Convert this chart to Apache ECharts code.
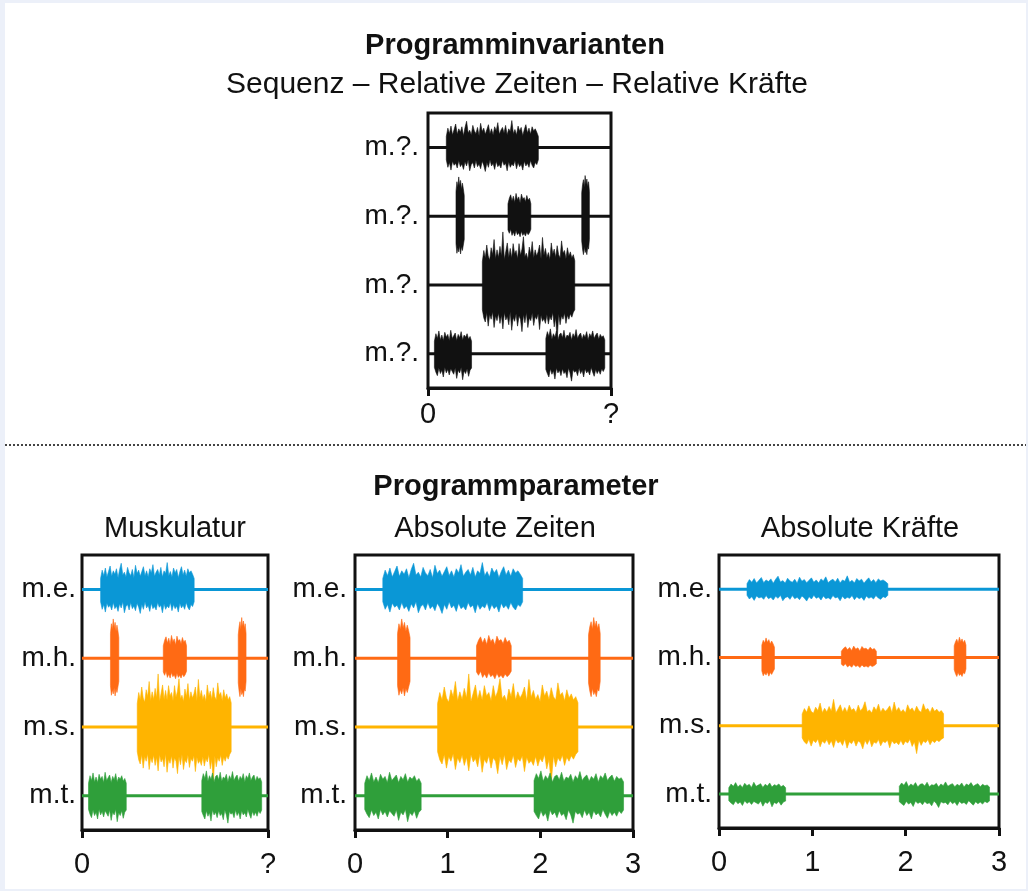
<!DOCTYPE html>
<html><head><meta charset="utf-8">
<script src="https://cdn.jsdelivr.net/npm/echarts@6/dist/echarts.min.js"></script>
<style>html,body{margin:0;padding:0;background:#fff}#c{width:1028px;height:891px}</style>
</head><body><div id="c"></div>
<script>
// ---------------- data ----------------
const rowNamesTop = ['m.?.', 'm.?.', 'm.?.', 'm.?.'];
const rowNames = ['m.e.', 'm.h.', 'm.s.', 'm.t.'];
const rowLevels = [40, 30, 20, 10];
const panelTitles = ['Muskulatur', 'Absolute Zeiten', 'Absolute Kräfte'];
const panelDurations = [2, 2, 3, 3];      // top panel, Muskulatur, Absolute Zeiten, Absolute Kräfte
const panelGains = [1, 1, 1, 0.5];        // amplitude scaling per panel
const panelIntervals = [2, 2, 1, 1];
const muscleColors = ['#0a97d6', '#ff6a14', '#ffb400', '#2f9f3a'];
const topColor = '#111111';

// burst on/off times as fraction of movement duration
const meBursts = [[0.100, 0.603]];
const mhBursts = [[0.153, 0.198], [0.437, 0.562], [0.840, 0.882]];
const msBursts = [[0.297, 0.802]];
const mtBursts = [[0.035, 0.238], [0.644, 0.966]];

// burst envelopes (upper / lower excursion, row spacing = 10)
const meUp = [[1.6,2.8,2.0,3.1,1.8,2.6,3.4,1.9,2.7,2.2,3.0,1.7,2.9,3.8,2.1,2.5,1.8,3.2,2.4,2.0,2.9,1.7,3.5,2.3,2.8,1.9,2.6,3.3,2.0,2.7,1.8,3.0,2.4,3.6,1.9,2.5,2.9,2.1,3.2,1.8,2.7,2.3,3.9,2.0,2.6,1.8,3.1,2.4,2.9,1.7,2.6,3.3,2.1,2.8,1.9,3.0,2.4,2.7,2.2,1.6]];
const meDn = [[1.8,2.9,2.2,3.3,2.0,2.6,2.3,3.0,1.9,2.8,2.4,3.2,2.1,2.7,1.8,3.4,2.5,2.2,3.0,1.9,2.8,2.4,3.1,2.0,2.6,3.5,2.2,2.9,1.8,2.7,2.3,3.2,2.0,2.8,2.5,3.0,1.9,2.6,2.3,3.4,2.1,2.9,2.4,2.7,1.9,3.1,2.2,2.8,2.4,3.3,2.0,2.7,2.3,2.9,1.9,2.6,3.0,2.2,2.5,1.8]];
const mhUp = [
  [3.6,5.0,4.2,5.7,4.4,5.2,3.9,4.8,4.0,3.0],
  [1.8,2.6,3.1,2.2,2.9,2.0,3.3,2.4,2.8,1.9,3.2,2.5,2.7,2.1,3.0,2.3,2.6,1.8],
  [3.4,4.6,5.3,4.2,5.9,4.6,5.4,4.3,5.0,3.6]
];
const mhDn = [
  [4.0,5.4,4.6,5.2,4.3,5.5,4.4,5.0,4.2,3.4],
  [2.0,2.5,1.9,2.8,2.3,2.9,2.1,2.7,2.4,3.0,2.2,2.8,2.5,2.9,2.3,2.7,2.4,1.9],
  [3.6,4.8,5.6,4.4,5.3,4.9,5.6,4.5,4.8,3.4]
];
const msUp = [[3.4,5.0,3.9,5.8,4.2,3.6,5.4,4.4,6.6,3.8,5.1,4.0,5.6,4.2,7.7,3.7,4.9,6.1,4.0,5.3,3.9,6.0,4.5,5.0,3.8,6.0,4.3,5.2,7.0,4.1,4.6,3.7,5.5,4.4,6.3,3.9,5.1,4.2,4.8,5.8,3.8,6.9,4.3,5.3,4.0,4.7,3.7,6.1,4.5,5.2,4.0,5.7,4.4,3.9,6.4,4.6,5.0,3.8,5.4,4.2,4.8,3.9,4.4,3.5]];
const msDn = [[3.6,4.8,5.4,4.0,6.0,4.3,5.0,3.9,6.2,4.5,5.2,4.1,5.6,4.4,6.4,4.0,5.1,4.6,5.8,3.9,6.6,4.7,5.3,4.2,6.0,4.5,5.0,6.8,4.3,5.5,4.0,6.2,4.8,5.2,4.1,5.9,4.6,5.0,4.2,6.5,4.4,5.3,4.9,5.6,4.3,5.7,4.6,5.1,4.0,6.1,4.7,8.2,4.2,5.8,4.5,5.0,4.1,5.6,4.4,5.0,4.2,4.7,4.0,3.6]];
const mtUp = [
  [1.8,2.9,2.2,3.3,2.0,2.7,1.9,3.1,2.4,2.8,1.9,3.4,2.2,2.6,3.0,1.9,2.8,2.3,3.2,2.0,2.7,2.4,2.9,2.1,2.5,1.8],
  [2.2,3.2,2.5,3.6,2.1,2.9,2.4,3.3,2.0,2.8,3.0,2.3,3.4,2.1,2.7,2.5,3.1,2.0,2.9,2.4,3.5,2.2,2.7,3.0,2.1,2.8,2.4,3.2,2.0,2.9,2.5,3.3,2.2,2.7,3.0,2.1,2.8,2.4,2.6,2.0]
];
const mtDn = [
  [2.0,2.7,3.2,2.1,2.9,2.4,3.4,2.0,2.8,2.3,3.1,2.2,2.6,3.0,2.1,3.6,2.4,2.8,2.0,3.8,2.5,2.9,2.2,3.3,2.4,2.1],
  [2.3,2.9,3.4,2.2,3.0,2.5,3.7,2.1,2.8,2.4,3.2,2.2,2.9,2.6,3.5,2.1,2.8,4.0,2.3,2.7,2.5,3.2,2.1,2.9,2.4,3.4,2.2,2.8,2.5,3.1,2.0,2.7,3.3,2.3,2.9,2.4,3.0,2.2,2.6,2.1]
];

const burstSets = [meBursts, mhBursts, msBursts, mtBursts];
const upSets = [meUp, mhUp, msUp, mtUp];
const dnSets = [meDn, mhDn, msDn, mtDn];

// ---------------- layout ----------------
const FONT = '"Liberation Sans", Arial, Helvetica, sans-serif';
const grids = [
  {left: 428, top: 113, width: 183, height: 275},
  {left: 82,  top: 555, width: 186, height: 275},
  {left: 355, top: 555, width: 278, height: 275},
  {left: 719, top: 555, width: 280, height: 273}
];
const labelMargins = [12, 20, 20, 20];
const rowLabelMargins = [9, 6, 8, 7];

function makeRender(ups, dns, gain, color) {
  return function (params, api) {
    const t0 = api.value(0), t1 = api.value(1), lvl = api.value(2), j = api.value(3);
    const u = ups[j], d = dns[j];
    const pts = [];
    for (let k = 0; k < u.length; k++) {
      const t = t0 + (t1 - t0) * k / (u.length - 1);
      pts.push(api.coord([t, lvl + u[k] * gain]));
    }
    for (let k = d.length - 1; k >= 0; k--) {
      const t = t0 + (t1 - t0) * k / (d.length - 1);
      pts.push(api.coord([t, lvl - d[k] * gain]));
    }
    return {type: 'polygon', shape: {points: pts}, style: {fill: color, stroke: color, lineWidth: 0.6}};
  };
}

const series = [];
const xAxes = [];
const yAxes = [];
grids.forEach((g, p) => {
  const dur = panelDurations[p];
  const names = p === 0 ? rowNamesTop : rowNames;
  xAxes.push({
    gridIndex: p, type: 'value', min: 0, max: dur, interval: panelIntervals[p],
    axisLine: {show: true, lineStyle: {color: '#111', width: 3}},
    axisTick: {show: true, length: 8, lineStyle: {color: '#111', width: 3}},
    splitLine: {show: false},
    axisLabel: {
      showMinLabel: true, showMaxLabel: true,
      fontSize: 29, fontFamily: FONT, color: '#111', margin: labelMargins[p],
      formatter: v => (p < 2 && v === dur) ? '?' : String(v)
    }
  });
  yAxes.push({
    gridIndex: p, type: 'value', min: 5, max: 45,
    axisLine: {show: false}, axisTick: {show: false}, splitLine: {show: false},
    axisLabel: {
      customValues: rowLevels.slice(),
      fontSize: 28, fontFamily: FONT, color: '#111', margin: rowLabelMargins[p],
      formatter: v => names[rowLevels.indexOf(v)] || ''
    }
  });
  for (let m = 0; m < 4; m++) {
    const color = p === 0 ? topColor : muscleColors[m];
    const lvl = rowLevels[m];
    series.push({
      type: 'line', xAxisIndex: p, yAxisIndex: p, silent: true, animation: false,
      symbol: 'none', lineStyle: {color: color, width: 3}, z: 2,
      data: [[0, lvl], [dur, lvl]]
    });
    series.push({
      type: 'custom', xAxisIndex: p, yAxisIndex: p, silent: true, animation: false, z: 3,
      renderItem: makeRender(upSets[m], dnSets[m], panelGains[p], color),
      encode: {x: [0, 1], y: 2},
      data: burstSets[m].map((b, j) => [b[0] * dur, b[1] * dur, lvl, j])
    });
  }
});

const graphics = [
  {type: 'rect', z: -10, shape: {x: 5, y: 3, width: 1021, height: 886}, style: {fill: '#ffffff'}},
  {type: 'line', shape: {x1: 5, y1: 445, x2: 1026, y2: 445}, style: {stroke: '#444', lineWidth: 1.8, lineDash: [2, 2]}},
  {type: 'text', x: 515, y: 46, style: {text: 'Programminvarianten', font: 'bold 29px ' + FONT, fill: '#111', textAlign: 'center', textVerticalAlign: 'middle'}},
  {type: 'text', x: 517, y: 85, style: {text: 'Sequenz – Relative Zeiten – Relative Kräfte', font: '30px ' + FONT, fill: '#111', textAlign: 'center', textVerticalAlign: 'middle'}},
  {type: 'text', x: 516, y: 487, style: {text: 'Programmparameter', font: 'bold 29px ' + FONT, fill: '#111', textAlign: 'center', textVerticalAlign: 'middle'}}
];
const subCenters = [175, 495, 860];
panelTitles.forEach((t, i) => {
  graphics.push({type: 'text', x: subCenters[i], y: 529, style: {text: t, font: '29px ' + FONT, fill: '#111', textAlign: 'center', textVerticalAlign: 'middle'}});
});

const chart = echarts.init(document.getElementById('c'), null, {renderer: 'canvas'});
chart.setOption({
  backgroundColor: '#ecf0f9',
  animation: false,
  grid: grids.map(g => Object.assign({show: true, borderColor: '#111', borderWidth: 3, backgroundColor: 'transparent', containLabel: false}, g)),
  xAxis: xAxes,
  yAxis: yAxes,
  graphic: {elements: graphics},
  series: series
});
</script></body></html>
